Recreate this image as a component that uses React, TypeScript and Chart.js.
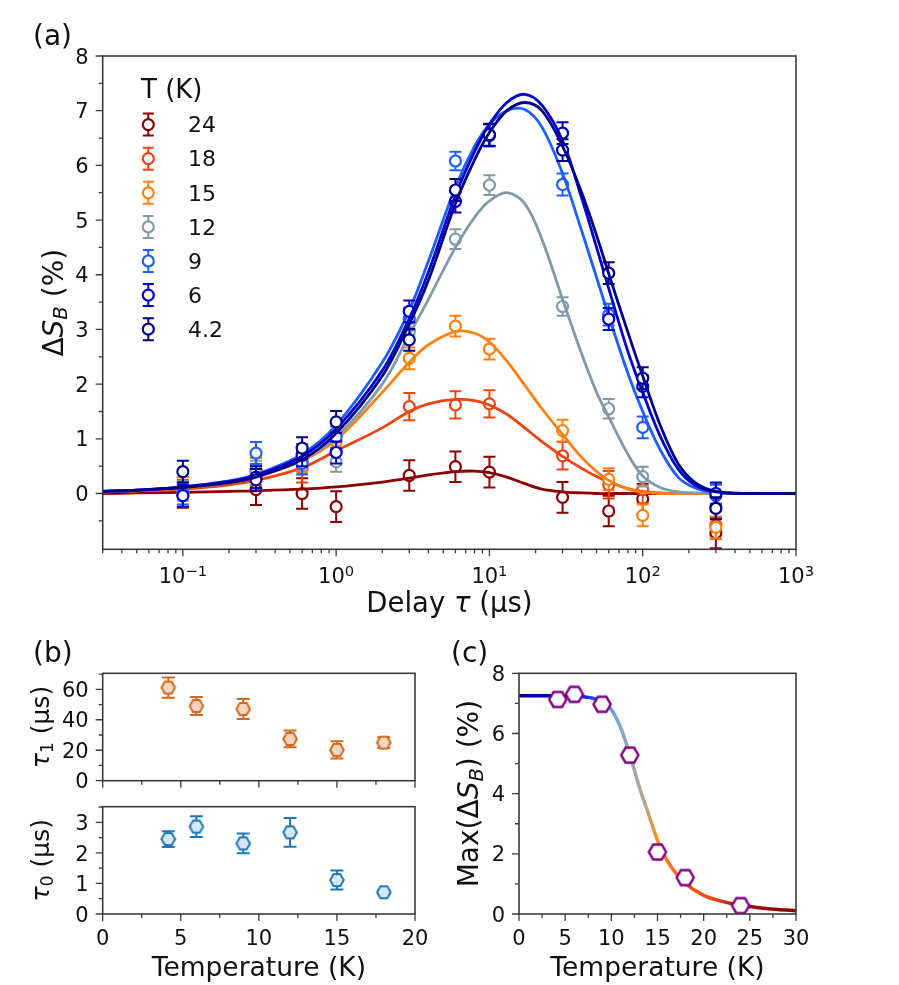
import React, { useEffect, useRef } from "react";
import { Chart, registerables } from "chart.js";

Chart.register(...registerables);

const FONT = '"DejaVu Sans", "Liberation Sans", sans-serif';
const INK = "#111111";
const FRAME = "#3a3a3a";

// ---------------- Panel (a) data ----------------
const TAU_PTS = [0.1, 0.3, 0.6, 1, 3, 6, 10, 30, 60, 100, 300];
const PTS_24 = [0.02, 0.07, 0.0, -0.24, 0.33, 0.49, 0.39, -0.07, -0.32, -0.1, -0.72];
const ERR_24 = [0.28, 0.28, 0.28, 0.28, 0.28, 0.28, 0.28, 0.28, 0.28, 0.28, 0.28];
const PTS_18 = [0.0, 0.4, 0.45, 0.78, 1.59, 1.62, 1.64, 0.69, 0.16, 0.07, -0.58];
const ERR_18 = [0.25, 0.25, 0.25, 0.25, 0.25, 0.25, 0.25, 0.25, 0.25, 0.25, 0.25];
const PTS_15 = [0.1, 0.45, 0.6, 0.95, 2.47, 3.06, 2.64, 1.15, 0.26, -0.4, -0.62];
const ERR_15 = [0.2, 0.2, 0.2, 0.2, 0.2, 0.19, 0.19, 0.2, 0.2, 0.2, 0.2];
const PTS_12 = [0.05, 0.42, 0.6, 0.58, 2.95, 4.65, 5.64, 3.42, 1.55, 0.31, 0.0];
const ERR_12 = [0.18, 0.18, 0.18, 0.18, 0.18, 0.18, 0.18, 0.17, 0.18, 0.18, 0.18];
const PTS_9 = [0.0, 0.74, 0.55, 1.03, 3.2, 6.08, 6.55, 5.65, 3.27, 1.21, -0.04];
const ERR_9 = [0.2, 0.2, 0.2, 0.2, 0.2, 0.17, 0.2, 0.2, 0.2, 0.2, 0.2];
const PTS_6 = [-0.04, 0.3, 0.7, 0.75, 3.33, 5.34, 6.55, 6.59, 3.19, 1.96, 0.0];
const ERR_6 = [0.2, 0.2, 0.2, 0.2, 0.2, 0.2, 0.2, 0.2, 0.2, 0.2, 0.2];
const PTS_42 = [0.4, 0.25, 0.83, 1.31, 2.81, 5.55, 6.56, 6.28, 4.03, 2.11, -0.27];
const ERR_42 = [0.2, 0.2, 0.2, 0.2, 0.2, 0.2, 0.2, 0.2, 0.2, 0.2, 0.2];

const TAU_FIT = [0.03, 0.05, 0.1, 0.2, 0.3, 0.6, 1, 2, 3, 4, 6, 8, 10, 13, 17, 22, 30, 40, 50, 60, 80, 100, 130, 170, 220, 300, 500, 1000];
const FIT_24 = [0, 0.01, 0.02, 0.04, 0.05, 0.08, 0.12, 0.21, 0.28, 0.34, 0.4, 0.41, 0.38, 0.3, 0.18, 0.08, 0.03, 0.01, 0, 0, 0, 0, 0, 0, 0, 0, 0, 0];
const FIT_18 = [0.03, 0.05, 0.08, 0.16, 0.24, 0.47, 0.78, 1.2, 1.5, 1.64, 1.72, 1.7, 1.62, 1.45, 1.2, 0.95, 0.68, 0.46, 0.31, 0.21, 0.09, 0.04, 0.01, 0, 0, 0, 0, 0];
const FIT_15 = [0.03, 0.05, 0.1, 0.2, 0.3, 0.6, 0.98, 1.85, 2.4, 2.72, 2.96, 2.93, 2.77, 2.42, 1.98, 1.55, 1.08, 0.66, 0.4, 0.24, 0.08, 0.025, 0, 0, 0, 0, 0, 0];
const FIT_12 = [0.035, 0.055, 0.11, 0.21, 0.31, 0.62, 1.03, 2.0, 2.9, 3.55, 4.5, 5.05, 5.35, 5.5, 5.3, 4.65, 3.55, 2.55, 1.85, 1.4, 0.72, 0.32, 0.11, 0.03, 0.01, 0, 0, 0];
const FIT_9 = [0.04, 0.06, 0.12, 0.23, 0.35, 0.72, 1.25, 2.4, 3.35, 4.25, 5.6, 6.35, 6.75, 7.0, 7.02, 6.7, 5.85, 4.8, 3.95, 3.25, 2.2, 1.5, 0.8, 0.3, 0.1, 0.02, 0, 0];
const FIT_6 = [0.04, 0.06, 0.12, 0.22, 0.33, 0.68, 1.18, 2.25, 3.2, 4.05, 5.45, 6.25, 6.75, 7.15, 7.3, 7.1, 6.45, 5.4, 4.5, 3.75, 2.6, 1.85, 1.05, 0.45, 0.15, 0.03, 0, 0];
const FIT_42 = [0.04, 0.06, 0.11, 0.2, 0.3, 0.62, 1.1, 2.15, 3.1, 3.9, 5.3, 6.1, 6.6, 7.0, 7.15, 7.0, 6.35, 5.5, 4.72, 4.02, 2.95, 2.15, 1.25, 0.55, 0.2, 0.04, 0, 0];

const TEMPS_A = ["24", "18", "15", "12", "9", "6", "4.2"];
const COLORS_A = ["#8B0000", "#EE4411", "#FF8010", "#8199A8", "#1E5EFF", "#0000CD", "#00008B"];
const PTS_A = [PTS_24, PTS_18, PTS_15, PTS_12, PTS_9, PTS_6, PTS_42];
const ERRS_A = [ERR_24, ERR_18, ERR_15, ERR_12, ERR_9, ERR_6, ERR_42];
const FITS_A = [FIT_24, FIT_18, FIT_15, FIT_12, FIT_9, FIT_6, FIT_42];

const A_X_MAJOR = [0.1, 1, 10, 100, 1000];
const A_X_EXPONENTS = ["\u22121", "0", "1", "2", "3"];
const A_X_DECADES = [0.01, 0.1, 1, 10, 100];
const A_X_MINOR_MULT = [2, 3, 4, 5, 6, 7, 8, 9];
const A_Y_MAJOR = [0, 1, 2, 3, 4, 5, 6, 7, 8];
const A_Y_MINOR = [-0.5, 0.5, 1.5, 2.5, 3.5, 4.5, 5.5, 6.5, 7.5];

// ---------------- Panel (b) data ----------------
const B_T = [4.2, 6, 9, 12, 15, 18];
const TAU1 = [61.1, 49.0, 47.1, 27.4, 20.2, 25.0];
const TAU1_ERR = [6.6, 5.9, 6.6, 5.5, 5.7, 3.6];
const TAU0 = [2.45, 2.86, 2.31, 2.67, 1.11, 0.71];
const TAU0_ERR = [0.26, 0.34, 0.32, 0.47, 0.31, 0.06];
const B_X_MAJOR = [0, 5, 10, 15, 20];
const B_X_MINOR = [2.5, 7.5, 12.5, 17.5];
const B1_Y_MAJOR = [0, 20, 40, 60];
const B1_Y_MINOR = [10, 30, 50, 70];
const B0_Y_MAJOR = [0, 1, 2, 3];
const B0_Y_MINOR = [0.5, 1.5, 2.5, 3.5];

// ---------------- Panel (c) data ----------------
const C_T = [4.2, 6, 9, 12, 15, 18, 24];
const C_MAX = [7.13, 7.3, 6.97, 5.28, 2.06, 1.21, 0.28];
const C_FIT_T = [0, 2, 4, 6, 8, 9, 10, 11, 12, 13, 14, 15, 16, 17, 18, 20, 22, 24, 26, 28, 30];
const C_FIT = [7.25, 7.25, 7.25, 7.24, 7.17, 7.05, 6.8, 6.2, 5.3, 4.25, 3.35, 2.45, 1.8, 1.35, 1.02, 0.62, 0.42, 0.29, 0.21, 0.15, 0.11];
const C_GRAD_T = [0, 6, 8.5, 10.5, 12.3, 13.8, 15, 18, 21, 24, 30];
const C_GRAD_COLORS = ["#00008B", "#0000CD", "#1E5EFF", "#6FA6DC", "#9AA7B0", "#C0A586", "#FF8C1A", "#FF5A14", "#EE4411", "#A51010", "#8B0000"];
const C_X_MAJOR = [0, 5, 10, 15, 20, 25, 30];
const C_X_MINOR = [2.5, 7.5, 12.5, 17.5, 22.5, 27.5];
const C_Y_MAJOR = [0, 2, 4, 6, 8];
const C_Y_MINOR = [1, 3, 5, 7];

// ---------------- helpers ----------------
type Part = { t: string; it?: boolean; sub?: boolean; sup?: boolean };
type TextItem = { parts: Part[]; x: number; y: number; size: number; align: "left" | "center" | "right"; rotate?: boolean };

function drawRich(ctx: CanvasRenderingContext2D, parts: Part[], x: number, y: number, size: number, align: string, rotate = false, color = INK) {
  ctx.save();
  ctx.translate(x, y);
  if (rotate) ctx.rotate(-Math.PI / 2);
  const fontFor = (p: Part) => `${p.it ? "italic " : ""}${p.sub || p.sup ? size * 0.7 : size}px ${FONT}`;
  let total = 0;
  const widths = parts.map((p) => {
    ctx.font = fontFor(p);
    const w = ctx.measureText(p.t).width;
    total += w;
    return w;
  });
  let cx = align === "left" ? 0 : align === "center" ? -total / 2 : -total;
  ctx.fillStyle = color;
  ctx.textBaseline = "alphabetic";
  ctx.textAlign = "left";
  parts.forEach((p, i) => {
    ctx.font = fontFor(p);
    const dy = p.sub ? size * 0.17 : p.sup ? -size * 0.34 : 0;
    ctx.fillText(p.t, cx, dy);
    cx += widths[i];
  });
  ctx.restore();
}

const MAJOR_LEN = 7;
const MINOR_LEN = 4;
const TICK_PAD = 7;

interface LegendCfg {
  title: Part[]; titleX: number; titleY: number; titleSize: number;
  labels: string[]; colors: string[]; markerX: number; textX: number; firstBaseline: number; step: number; size: number;
}
interface DecorCfg {
  ox: number; oy: number;
  xMajor: number[]; xMinor: number[]; yMajor: number[]; yMinor: number[];
  xLabels?: Part[][]; xLabelDy?: number;
  yLabels?: string[];
  tickSize: number;
  texts: TextItem[];
  legend?: LegendCfg;
}

function makeDecor(cfg: DecorCfg) {
  return {
    id: "decor",
    afterDraw(chart: any) {
      const ctx: CanvasRenderingContext2D = chart.ctx;
      const ca = chart.chartArea;
      const xs = chart.scales.x;
      const ys = chart.scales.y;
      const eps = 1e-9;
      const inX = (v: number) => v >= xs.min - eps && v <= xs.max + eps;
      const inY = (v: number) => v >= ys.min - eps && v <= ys.max + eps;
      ctx.save();
      ctx.strokeStyle = FRAME;
      ctx.lineWidth = 1.6;
      ctx.strokeRect(ca.left, ca.top, ca.right - ca.left, ca.bottom - ca.top);
      ctx.lineWidth = 1.3;
      ctx.beginPath();
      cfg.xMajor.filter(inX).forEach((v) => {
        const p = xs.getPixelForValue(v);
        ctx.moveTo(p, ca.bottom); ctx.lineTo(p, ca.bottom + MAJOR_LEN);
      });
      cfg.xMinor.filter(inX).forEach((v) => {
        const p = xs.getPixelForValue(v);
        ctx.moveTo(p, ca.bottom); ctx.lineTo(p, ca.bottom + MINOR_LEN);
      });
      cfg.yMajor.filter(inY).forEach((v) => {
        const p = ys.getPixelForValue(v);
        ctx.moveTo(ca.left, p); ctx.lineTo(ca.left - MAJOR_LEN, p);
      });
      cfg.yMinor.filter(inY).forEach((v) => {
        const p = ys.getPixelForValue(v);
        ctx.moveTo(ca.left, p); ctx.lineTo(ca.left - MINOR_LEN, p);
      });
      ctx.stroke();
      if (cfg.xLabels) {
        cfg.xLabels.forEach((parts, i) => {
          drawRich(ctx, parts, xs.getPixelForValue(cfg.xMajor[i]), ca.bottom + (cfg.xLabelDy || 31), cfg.tickSize, "center");
        });
      }
      if (cfg.yLabels) {
        cfg.yLabels.forEach((lbl, i) => {
          drawRich(ctx, [{ t: lbl }], ca.left - MAJOR_LEN - TICK_PAD, ys.getPixelForValue(cfg.yMajor[i]) + 0.3645 * cfg.tickSize, cfg.tickSize, "right");
        });
      }
      cfg.texts.forEach((t) => drawRich(ctx, t.parts, t.x - cfg.ox, t.y - cfg.oy, t.size, t.align, !!t.rotate));
      const lg = cfg.legend;
      if (lg) {
        drawRich(ctx, lg.title, lg.titleX - cfg.ox, lg.titleY - cfg.oy, lg.titleSize, "left");
        lg.labels.forEach((lbl, k) => {
          const base = lg.firstBaseline + k * lg.step - cfg.oy;
          const my = base - 7.7;
          const mx = lg.markerX - cfg.ox;
          ctx.strokeStyle = lg.colors[k];
          ctx.lineWidth = 2;
          ctx.beginPath();
          ctx.moveTo(mx, my - 11); ctx.lineTo(mx, my + 11);
          ctx.moveTo(mx - 5.5, my - 11); ctx.lineTo(mx + 5.5, my - 11);
          ctx.moveTo(mx - 5.5, my + 11); ctx.lineTo(mx + 5.5, my + 11);
          ctx.stroke();
          ctx.beginPath();
          ctx.arc(mx, my, 5.5, 0, Math.PI * 2);
          ctx.fillStyle = "#ffffff";
          ctx.fill();
          ctx.lineWidth = 2.2;
          ctx.stroke();
          drawRich(ctx, [{ t: lbl }], lg.textX - cfg.ox, base, lg.size, "left");
        });
      }
      ctx.restore();
    },
  };
}

const errorBarPlugin = {
  id: "errorBars",
  beforeDatasetDraw(chart: any, args: any) {
    const ds: any = chart.data.datasets[args.index];
    if (!ds.errors) return;
    const xs = chart.scales.x;
    const ys = chart.scales.y;
    const ctx: CanvasRenderingContext2D = chart.ctx;
    const ca = chart.chartArea;
    ctx.save();
    ctx.beginPath();
    ctx.rect(ca.left, ca.top, ca.right - ca.left, ca.bottom - ca.top);
    ctx.clip();
    ctx.strokeStyle = ds.errColor || ds.borderColor;
    ctx.lineWidth = 2;
    const cap = ds.capHalf || 5;
    ds.data.forEach((p: any, i: number) => {
      const e = ds.errors[i];
      if (!e) return;
      const px = xs.getPixelForValue(p.x);
      const y1 = ys.getPixelForValue(p.y - e);
      const y2 = ys.getPixelForValue(p.y + e);
      ctx.beginPath();
      ctx.moveTo(px, y1); ctx.lineTo(px, y2);
      ctx.moveTo(px - cap, y1); ctx.lineTo(px + cap, y1);
      ctx.moveTo(px - cap, y2); ctx.lineTo(px + cap, y2);
      ctx.stroke();
    });
    ctx.restore();
  },
};

function hexImage(r: number, stroke: string, fill: string, lw: number) {
  const s = Math.ceil(2 * r + lw + 2);
  const c = document.createElement("canvas");
  c.width = s;
  c.height = s;
  const g = c.getContext("2d")!;
  g.beginPath();
  for (let k = 0; k < 6; k++) {
    const a = (Math.PI / 3) * k;
    const px = s / 2 + r * Math.cos(a);
    const py = s / 2 + r * Math.sin(a);
    if (k === 0) g.moveTo(px, py);
    else g.lineTo(px, py);
  }
  g.closePath();
  g.fillStyle = fill;
  g.fill();
  g.lineWidth = lw;
  g.strokeStyle = stroke;
  g.stroke();
  return c;
}

interface Geo { cx: number; cy: number; cw: number; ch: number; L: number; T: number; R: number; B: number }

function baseOptions(geo: Geo, xType: string, xMin: number, xMax: number, yMin: number, yMax: number): any {
  return {
    responsive: false,
    animation: false,
    devicePixelRatio: 1,
    events: [],
    layout: { padding: { left: 0, top: geo.T - geo.cy, right: geo.cx + geo.cw - geo.R, bottom: 0 } },
    plugins: { legend: { display: false }, tooltip: { enabled: false } },
    scales: {
      x: {
        type: xType, min: xMin, max: xMax,
        ticks: { display: false }, grid: { display: false }, border: { display: false },
        afterFit: (s: any) => { s.height = geo.cy + geo.ch - geo.B; },
      },
      y: {
        type: "linear", min: yMin, max: yMax,
        ticks: { display: false }, grid: { display: false }, border: { display: false },
        afterFit: (s: any) => { s.width = geo.L - geo.cx; },
      },
    },
  };
}

const plain = (s: string): Part[] => [{ t: s }];

// ---------------- panel configs ----------------
const GEO_A: Geo = { cx: 0, cy: 0, cw: 899, ch: 630, L: 102.7, T: 56, R: 796, B: 549.3 };
const GEO_B1: Geo = { cx: 0, cy: 630, cw: 440, ch: 165, L: 102.7, T: 673.3, R: 415, B: 780.7 };
const GEO_B0: Geo = { cx: 0, cy: 795, cw: 440, ch: 190, L: 102.7, T: 806.7, R: 415, B: 914 };
const GEO_C: Geo = { cx: 440, cy: 630, cw: 459, ch: 355, L: 519, T: 673.3, R: 796, B: 914 };

function buildA(): any {
  const datasets: any[] = [];
  TEMPS_A.forEach((_, k) => {
    const layer = 6 - k;
    datasets.push({
      data: TAU_PTS.map((t, i) => ({ x: t, y: PTS_A[k][i] })),
      errors: ERRS_A[k],
      capHalf: 6,
      showLine: false,
      borderColor: COLORS_A[k],
      pointBorderColor: COLORS_A[k],
      pointBackgroundColor: "#ffffff",
      pointRadius: 5.5,
      pointBorderWidth: 2.2,
      order: layer * 2 + 1,
    });
    datasets.push({
      data: TAU_FIT.map((t, i) => ({ x: t, y: FITS_A[k][i] })),
      borderColor: COLORS_A[k],
      borderWidth: 2.8,
      pointRadius: 0,
      tension: 0.35,
      fill: false,
      order: layer * 2,
    });
  });
  const xMinor: number[] = [];
  A_X_DECADES.forEach((d) => A_X_MINOR_MULT.forEach((m) => xMinor.push(d * m)));
  const decor = makeDecor({
    ox: GEO_A.cx, oy: GEO_A.cy,
    xMajor: A_X_MAJOR, xMinor, yMajor: A_Y_MAJOR, yMinor: A_Y_MINOR,
    xLabels: A_X_EXPONENTS.map((e) => [{ t: "10" }, { t: e, sup: true }]),
    xLabelDy: 34,
    yLabels: A_Y_MAJOR.map((v) => String(v)),
    tickSize: 21,
    texts: [
      { parts: plain("(a)"), x: 33, y: 44.7, size: 28, align: "left" },
      { parts: [{ t: "Delay " }, { t: "\u03c4", it: true }, { t: " (\u03bcs)" }], x: 449.4, y: 612, size: 27.5, align: "center" },
      { parts: [{ t: "\u0394" }, { t: "S", it: true }, { t: "B", it: true, sub: true }, { t: " (%)" }], x: 62.5, y: 302.7, size: 28, align: "center", rotate: true },
    ],
    legend: {
      title: plain("T (K)"), titleX: 141, titleY: 97.5, titleSize: 26,
      labels: TEMPS_A, colors: COLORS_A, markerX: 148.3, textX: 188, firstBaseline: 132.3, step: 34.1, size: 22,
    },
  });
  return {
    type: "line",
    data: { datasets },
    options: baseOptions(GEO_A, "logarithmic", 0.03, 1000, -1.02, 8),
    plugins: [errorBarPlugin, decor],
  };
}

function buildB1(): any {
  const col = "#D2691E";
  const decor = makeDecor({
    ox: GEO_B1.cx, oy: GEO_B1.cy,
    xMajor: B_X_MAJOR, xMinor: B_X_MINOR, yMajor: B1_Y_MAJOR, yMinor: B1_Y_MINOR,
    yLabels: B1_Y_MAJOR.map((v) => String(v)),
    tickSize: 21,
    texts: [
      { parts: plain("(b)"), x: 33, y: 661.5, size: 28, align: "left" },
      { parts: [{ t: "\u03c4", it: true }, { t: "1", sub: true }, { t: " (\u03bcs)" }], x: 48.5, y: 727, size: 25, align: "center", rotate: true },
    ],
  });
  return {
    type: "line",
    data: {
      datasets: [{
        data: B_T.map((t, i) => ({ x: t, y: TAU1[i] })),
        errors: TAU1_ERR, capHalf: 6.5,
        showLine: false, borderColor: col,
        pointStyle: hexImage(6.8, col, "#F4D6C0", 2), pointRadius: 6,
      }],
    },
    options: baseOptions(GEO_B1, "linear", 0, 20, 0, 70.5),
    plugins: [errorBarPlugin, decor],
  };
}

function buildB0(): any {
  const col = "#1F77B4";
  const decor = makeDecor({
    ox: GEO_B0.cx, oy: GEO_B0.cy,
    xMajor: B_X_MAJOR, xMinor: B_X_MINOR, yMajor: B0_Y_MAJOR, yMinor: B0_Y_MINOR,
    xLabels: B_X_MAJOR.map((v) => plain(String(v))), xLabelDy: 31,
    yLabels: B0_Y_MAJOR.map((v) => String(v)),
    tickSize: 21,
    texts: [
      { parts: [{ t: "\u03c4", it: true }, { t: "0", sub: true }, { t: " (\u03bcs)" }], x: 48.5, y: 860.3, size: 25, align: "center", rotate: true },
      { parts: plain("Temperature (K)"), x: 258.9, y: 976, size: 26.5, align: "center" },
    ],
  });
  return {
    type: "line",
    data: {
      datasets: [{
        data: B_T.map((t, i) => ({ x: t, y: TAU0[i] })),
        errors: TAU0_ERR, capHalf: 6.5,
        showLine: false, borderColor: col,
        pointStyle: hexImage(6.8, col, "#D8E8F3", 2), pointRadius: 6,
      }],
    },
    options: baseOptions(GEO_B0, "linear", 0, 20, 0, 3.51),
    plugins: [errorBarPlugin, decor],
  };
}

function buildC(): any {
  const purple = "#800080";
  const decor = makeDecor({
    ox: GEO_C.cx, oy: GEO_C.cy,
    xMajor: C_X_MAJOR, xMinor: C_X_MINOR, yMajor: C_Y_MAJOR, yMinor: C_Y_MINOR,
    xLabels: C_X_MAJOR.map((v) => plain(String(v))), xLabelDy: 31,
    yLabels: C_Y_MAJOR.map((v) => String(v)),
    tickSize: 21,
    texts: [
      { parts: plain("(c)"), x: 451, y: 661.5, size: 28, align: "left" },
      { parts: [{ t: "Max(\u0394" }, { t: "S", it: true }, { t: "B", it: true, sub: true }, { t: ") (%)" }], x: 478, y: 793.6, size: 28, align: "center", rotate: true },
      { parts: plain("Temperature (K)"), x: 657.5, y: 976, size: 26.5, align: "center" },
    ],
  });
  const gradient = (ctx: any) => {
    const chart = ctx.chart;
    const xs = chart.scales && chart.scales.x;
    if (!chart.chartArea || !xs) return C_GRAD_COLORS[0];
    const x0 = xs.getPixelForValue(C_GRAD_T[0]);
    const x1 = xs.getPixelForValue(C_GRAD_T[C_GRAD_T.length - 1]);
    const g = chart.ctx.createLinearGradient(x0, 0, x1, 0);
    const span = C_GRAD_T[C_GRAD_T.length - 1] - C_GRAD_T[0];
    C_GRAD_T.forEach((t, i) => g.addColorStop((t - C_GRAD_T[0]) / span, C_GRAD_COLORS[i]));
    return g;
  };
  return {
    type: "line",
    data: {
      datasets: [
        {
          data: C_T.map((t, i) => ({ x: t, y: C_MAX[i] })),
          showLine: false, borderColor: purple,
          pointStyle: hexImage(8.6, purple, "#ffffff", 2.4), pointRadius: 8,
          order: 0,
        },
        {
          data: C_FIT_T.map((t, i) => ({ x: t, y: C_FIT[i] })),
          borderColor: gradient, borderWidth: 3.5, pointRadius: 0,
          cubicInterpolationMode: "monotone", fill: false, order: 1,
        },
      ],
    },
    options: baseOptions(GEO_C, "linear", 0, 30, 0, 8),
    plugins: [decor],
  };
}

function Panel({ geo, build }: { geo: Geo; build: () => any }) {
  const ref = useRef<HTMLCanvasElement>(null);
  useEffect(() => {
    const chart = new Chart(ref.current as HTMLCanvasElement, build());
    return () => chart.destroy();
  }, []);
  return (
    <canvas
      ref={ref}
      width={geo.cw}
      height={geo.ch}
      style={{ position: "absolute", left: geo.cx, top: geo.cy, width: geo.cw, height: geo.ch, display: "block" }}
    />
  );
}

export default function App() {
  return (
    <div style={{ position: "absolute", left: 0, top: 0, width: 899, height: 985, background: "#ffffff", overflow: "hidden" }}>
      <Panel geo={GEO_A} build={buildA} />
      <Panel geo={GEO_B1} build={buildB1} />
      <Panel geo={GEO_B0} build={buildB0} />
      <Panel geo={GEO_C} build={buildC} />
    </div>
  );
}
